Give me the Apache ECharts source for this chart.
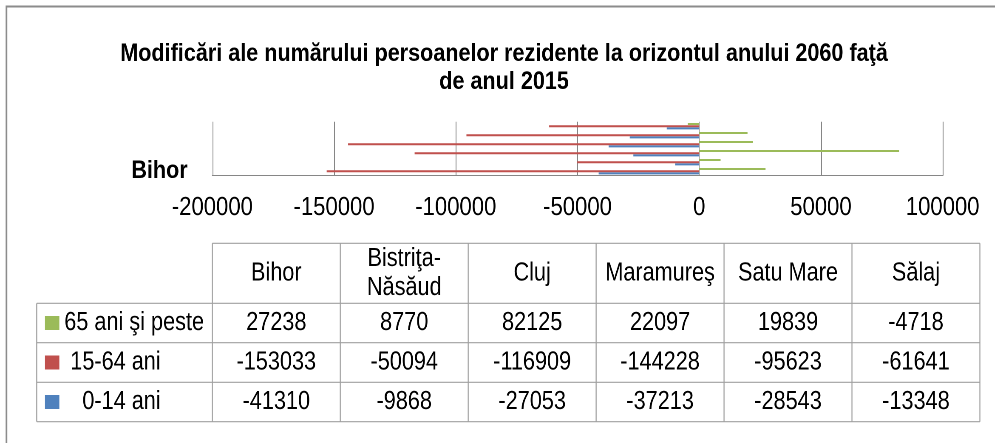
<!DOCTYPE html>
<html>
<head>
<meta charset="utf-8">
<script src="https://cdn.jsdelivr.net/npm/echarts@6/dist/echarts.min.js"></script>
<style>
html, body { margin: 0; padding: 0; background: #fff; overflow: hidden; }
/* the original picture is squeezed horizontally, so the chart is drawn wider and squeezed */
#chart { width: 1171px; height: 443px; transform: scaleX(0.85); transform-origin: 0 0; }
</style>
</head>
<body>
<div id="chart"></div>
<script>
var counties = ['Bihor', 'Bistriţa-Năsăud', 'Cluj', 'Maramureş', 'Satu Mare', 'Sălaj'];
var seriesNames = ['65 ani şi peste', '15-64 ani', '0-14 ani'];
var age65 = [27238, 8770, 82125, 22097, 19839, -4718];
var age1564 = [-153033, -50094, -116909, -144228, -95623, -61641];
var age014 = [-41310, -9868, -27053, -37213, -28543, -13348];
var colors = ['#9BBB59', '#C0504D', '#4F81BD'];

var FONT = 'Liberation Sans, Arial, sans-serif';
var lineColor = '#a0a0a0';

// table below the chart, built from the same arrays
function buildTable() {
    var els = [];
    var leftX = 43.2, firstX = 249.8, colW = 150.5;
    var rowY = [243.3, 303.3, 342.7, 382.3, 421.7];
    var rightX = firstX + colW * counties.length;
    var rows = [age65, age1564, age014];
    var pads = ['', ' ', '   '];

    function line(x1, y1, x2, y2) {
        els.push({ type: 'line', shape: { x1: x1, y1: y1, x2: x2, y2: y2 },
                   style: { stroke: lineColor, lineWidth: 1.2 } });
    }
    function text(t, x, y, align) {
        els.push({ type: 'text', x: x, y: y,
                   style: { text: t, fill: '#000', fontSize: 25.5, fontFamily: FONT,
                            align: align || 'center', verticalAlign: 'middle', lineHeight: 29 } });
    }

    line(firstX, rowY[0], rightX, rowY[0]);
    for (var r = 1; r < rowY.length; r++) line(leftX, rowY[r], rightX, rowY[r]);
    line(leftX, rowY[1], leftX, rowY[4]);
    for (var c = 0; c <= counties.length; c++) {
        line(firstX + c * colW, rowY[0], firstX + c * colW, rowY[4]);
    }

    counties.forEach(function (name, i) {
        text(name.replace('-', '-\n'), firstX + colW * (i + 0.5), (rowY[0] + rowY[1]) / 2);
    });

    rows.forEach(function (vals, r) {
        var cy = (rowY[r + 1] + rowY[r + 2]) / 2;
        els.push({ type: 'rect', shape: { x: 52.9, y: cy - 7, width: 16.9, height: 14 },
                   style: { fill: colors[r] } });
        text(pads[r] + seriesNames[r], 75.6, cy, 'left');
        vals.forEach(function (v, i) {
            text(String(v), firstX + colW * (i + 0.5), cy);
        });
    });
    return els;
}

var chart = echarts.init(document.getElementById('chart'), null, { devicePixelRatio: 2 });

var option = {
    backgroundColor: '#fff',
    animation: false,
    title: {
        text: 'Modificări ale numărului persoanelor rezidente la orizontul anului 2060 faţă\nde anul 2015',
        left: 588,
        top: 35,
        textAlign: 'center',
        textStyle: { fontFamily: FONT, fontSize: 25.4, fontWeight: 'bold', color: '#000', lineHeight: 28 }
    },
    grid: { left: 249.8, right: 62, top: 121.7, height: 54, containLabel: false },
    xAxis: {
        type: 'value',
        min: -200000,
        max: 100000,
        interval: 50000,
        axisLine: { show: true, lineStyle: { color: '#868686', width: 1 } },
        axisTick: { show: false },
        splitLine: { show: true, lineStyle: { color: '#868686', width: 1 } },
        axisLabel: {
            margin: 19,
            color: '#000',
            fontFamily: FONT,
            fontSize: 26,
            formatter: function (v) { return String(v); }
        }
    },
    yAxis: {
        type: 'category',
        data: counties,
        axisLine: { show: false },
        axisTick: { show: false },
        axisLabel: {
            interval: 5,
            margin: 29,
            color: '#000',
            fontFamily: FONT,
            fontSize: 25.4,
            fontWeight: 'bold'
        }
    },
    series: [
        { name: seriesNames[0], type: 'bar', data: age65, barWidth: 2, barGap: '10%', itemStyle: { color: colors[0] } },
        { name: seriesNames[1], type: 'bar', data: age1564, barWidth: 2, barGap: '10%', itemStyle: { color: colors[1] } },
        { name: seriesNames[2], type: 'bar', data: age014, barWidth: 2, barGap: '10%', itemStyle: { color: colors[2] } }
    ],
    graphic: [
        { type: 'rect', shape: { x: 7.6, y: 6.5, width: 1400, height: 600 },
          style: { fill: 'none', stroke: '#8c8c8c', lineWidth: 2 } }
    ].concat(buildTable())
};

chart.setOption(option);
</script>
</body>
</html>
